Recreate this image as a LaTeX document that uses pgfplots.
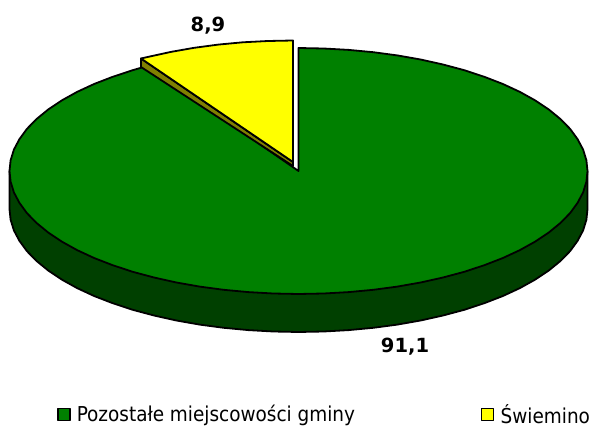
\documentclass[border=0pt]{standalone}
\usepackage{pgfplots}
\pgfplotsset{compat=1.18}
\usepackage{fontspec}
\setmainfont{DejaVu Sans}
\newfontfamily\legendfont{DejaVu Sans Condensed}
\definecolor{topgreen}{HTML}{008000}
\definecolor{sidegreen}{HTML}{004000}
\definecolor{topyellow}{HTML}{FFFF00}
\definecolor{sideyellow}{HTML}{808000}

\begin{document}
\begin{tikzpicture}
  \begin{axis}[
    scale only axis,
    width=591bp, height=427bp,
    xmin=0, xmax=591,
    ymin=0, ymax=427,
    y dir=reverse,
    hide axis,
    every axis plot/.append style={line width=1.8bp, line join=round},
    legend columns=2,
    legend cell align=left,
    legend style={
      at={(axis cs:54,414.5)}, anchor=west,
      draw=none, fill=none,
      font=\legendfont\fontsize{20.5bp}{24bp}\selectfont,
      /tikz/every even column/.append style={column sep=124bp},
    },
    legend image code/.code={
      \draw[#1, line width=1.4bp] (0bp,-6bp) rectangle (12bp,6bp);
      \path (16bp,0bp);
    },
  ]
  % side of the big slice
  \addplot[fill=sidegreen, draw=black, forget plot] coordinates {
    (587.5,171)(587.5,209)(586.4,219.7)(583.1,230.4)(577.6,240.8)(570.1,251.1)(560.4,261)
    (548.8,270.5)(535.2,279.6)(519.9,288.1)(502.9,296)(484.3,303.2)(464.3,309.8)(443,315.5)
    (420.6,320.5)(397.3,324.6)(373.3,327.8)(348.7,330.1)(323.7,331.5)(298.5,332)(273.3,331.5)
    (248.3,330.1)(223.7,327.8)(199.7,324.6)(176.4,320.5)(154,315.5)(132.7,309.8)(112.7,303.2)
    (94.1,296)(77.1,288.1)(61.8,279.6)(48.2,270.5)(36.6,261)(26.9,251.1)(19.4,240.8)
    (13.9,230.4)(10.6,219.7)(9.5,209)(9.5,171)
  } --cycle;
  % top of the big slice
  \addplot[fill=topgreen, draw=black] coordinates {
    (298.5,171)(298.5,48)(323.7,48.5)(348.7,49.9)(373.3,52.2)(397.3,55.4)(420.6,59.5)(443,64.5)
    (464.3,70.2)(484.3,76.8)(502.9,84)(519.9,91.9)(535.2,100.4)(548.8,109.5)(560.4,119)
    (570.1,128.9)(577.6,139.2)(583.1,149.6)(586.4,160.3)(587.5,171)
    (586.4,181.7)(583.1,192.4)(577.6,202.8)(570.1,213.1)(560.4,223)(548.8,232.5)(535.2,241.6)
    (519.9,250.1)(502.9,258)(484.3,265.2)(464.3,271.8)(443,277.5)(420.6,282.5)(397.3,286.6)
    (373.3,289.8)(348.7,292.1)(323.7,293.5)(298.5,294)(273.3,293.5)(248.3,292.1)(223.7,289.8)
    (199.7,286.6)(176.4,282.5)(154,277.5)(132.7,271.8)(112.7,265.2)(94.1,258)(77.1,250.1)
    (61.8,241.6)(48.2,232.5)(36.6,223)(26.9,213.1)(19.4,202.8)(13.9,192.4)(10.6,181.7)(9.5,171)
    (10.6,160.3)(13.9,149.6)(19.4,139.2)(26.9,128.9)(36.6,119)(48.2,109.5)(61.8,100.4)
    (77.1,91.9)(94.1,84)(112.7,76.8)(132.7,70.2)(147,66)
  } --cycle;
  \addlegendentry{Pozostałe miejscowości gminy}
  % side of the small slice
  \addplot[fill=sideyellow, draw=black, forget plot] coordinates {
    (141,58.5)(293,162)(293,166)(141,67)
  } --cycle;
  % top of the small slice
  \addplot[fill=topyellow, draw=black] coordinates {
    (293,162)(293,40.5)(267.8,41)(242.8,42.3)(218.2,44.6)(194.2,47.8)(170.9,51.9)(148.5,56.8)(141,58.5)
  } --cycle;
  \addlegendentry{Świemino}
  \node[font=\bfseries\fontsize{19.5bp}{22bp}\selectfont] at (axis cs:208,26) {8,9};
  \node[font=\bfseries\fontsize{19.5bp}{22bp}\selectfont] at (axis cs:405,347) {91,1};
  \end{axis}
  \pgfresetboundingbox
  \path[use as bounding box] (current axis.south west) rectangle (current axis.north east);
\end{tikzpicture}
\end{document}
